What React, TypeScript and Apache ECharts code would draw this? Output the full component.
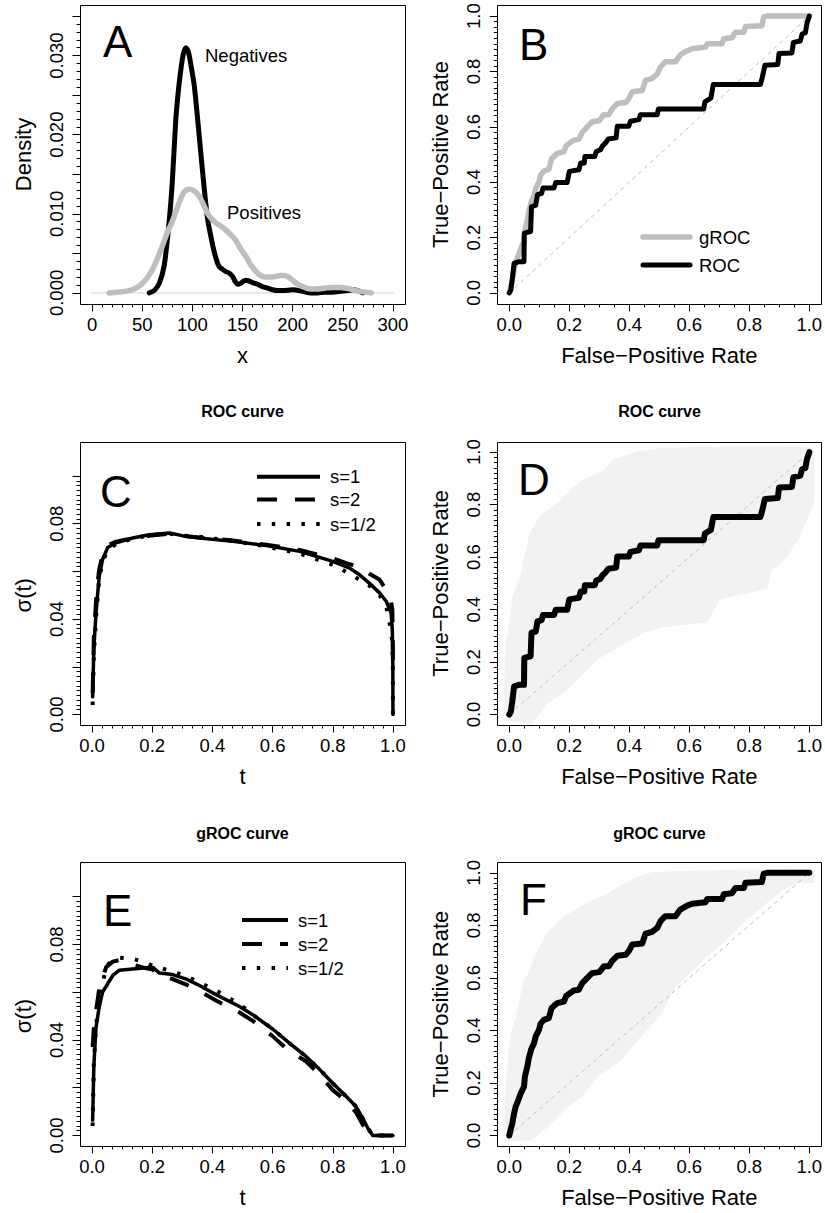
import React, { useEffect, useRef } from 'react';
import * as echarts from 'echarts';

// ---------------- DATA ----------------
// Panel A: kernel densities
const negX = [57, 62, 67, 72, 77, 80, 83.5, 86, 88.5, 91, 93.6, 96, 99, 102, 106, 110, 113, 115.4, 119, 122, 125, 127, 130, 133.5, 137, 140, 143, 145, 148, 150, 153, 157, 160, 165, 170, 175, 180, 185, 190, 200, 210, 218, 225, 232, 240, 248, 255, 260, 265, 270];
const negY = [0, 0.0003, 0.0012, 0.0035, 0.0092, 0.014, 0.0219, 0.0255, 0.0282, 0.0302, 0.031, 0.0305, 0.0285, 0.0261, 0.021, 0.0156, 0.0118, 0.0092, 0.0068, 0.0051, 0.0038, 0.0033, 0.003, 0.0027, 0.0025, 0.0021, 0.0014, 0.0011, 0.0012, 0.0014, 0.0016, 0.0015, 0.0013, 0.0011, 0.0008, 0.0006, 0.0004, 0.0003, 0.0003, 0.0004, 0.0002, 0, 0, 0.0001, 0.0001, 0.0002, 0.0003, 0.0004, 0.0003, 0];
const posX = [17, 25, 33, 40, 45, 50, 55, 60, 65, 70, 75, 80.5, 85, 88.7, 92, 97, 102, 107, 111, 115, 119, 124, 128, 133, 138, 143, 148, 153.5, 158, 163.6, 168, 173.5, 178, 183.5, 188, 192, 196, 200, 205, 210, 217, 224, 232, 240, 247, 253.7, 260, 266.8, 272, 278.5];
const posY = [0, 0.0001, 0.0002, 0.0004, 0.0007, 0.0012, 0.0019, 0.0029, 0.0043, 0.0059, 0.0076, 0.0092, 0.0108, 0.012, 0.0128, 0.0131, 0.0129, 0.0122, 0.0112, 0.0101, 0.0094, 0.0088, 0.0085, 0.008, 0.0074, 0.0067, 0.0056, 0.0046, 0.0036, 0.0027, 0.0022, 0.002, 0.002, 0.0021, 0.0022, 0.0022, 0.002, 0.0016, 0.0011, 0.0008, 0.0005, 0.0005, 0.0006, 0.0007, 0.0007, 0.0006, 0.0004, 0.0002, 0.0001, 0];

// ROC curve (False-positive rate, True-positive rate)
const rocFpr = [0, 0.005, 0.01, 0.016, 0.032, 0.049, 0.05, 0.071, 0.074, 0.088, 0.094, 0.108, 0.112, 0.149, 0.155, 0.193, 0.2, 0.232, 0.238, 0.25, 0.252, 0.285, 0.29, 0.304, 0.31, 0.321, 0.33, 0.356, 0.36, 0.398, 0.404, 0.432, 0.437, 0.493, 0.497, 0.648, 0.652, 0.672, 0.68, 0.837, 0.843, 0.852, 0.895, 0.899, 0.942, 0.947, 0.97, 0.976, 0.987, 0.992, 1];
const rocTpr = [0, 0.01, 0.05, 0.107, 0.113, 0.113, 0.216, 0.222, 0.312, 0.316, 0.355, 0.36, 0.379, 0.379, 0.399, 0.399, 0.439, 0.445, 0.469, 0.469, 0.493, 0.493, 0.511, 0.517, 0.53, 0.542, 0.556, 0.56, 0.602, 0.602, 0.62, 0.626, 0.644, 0.644, 0.664, 0.664, 0.69, 0.704, 0.753, 0.753, 0.777, 0.822, 0.825, 0.865, 0.867, 0.905, 0.91, 0.935, 0.94, 0.973, 1];

// gROC curve
const grocFpr = [0, 0.004, 0.01, 0.016, 0.021, 0.03, 0.038, 0.049, 0.052, 0.06, 0.065, 0.074, 0.082, 0.088, 0.099, 0.104, 0.115, 0.132, 0.141, 0.16, 0.182, 0.19, 0.215, 0.232, 0.243, 0.26, 0.276, 0.3, 0.315, 0.332, 0.343, 0.36, 0.388, 0.398, 0.41, 0.443, 0.454, 0.476, 0.493, 0.504, 0.52, 0.554, 0.57, 0.593, 0.609, 0.654, 0.66, 0.709, 0.715, 0.742, 0.754, 0.782, 0.787, 0.842, 0.848, 0.86, 1];
const grocTpr = [0, 0.02, 0.046, 0.084, 0.109, 0.135, 0.16, 0.186, 0.224, 0.262, 0.294, 0.332, 0.35, 0.377, 0.402, 0.425, 0.44, 0.447, 0.485, 0.504, 0.51, 0.532, 0.552, 0.555, 0.58, 0.6, 0.618, 0.622, 0.644, 0.644, 0.665, 0.684, 0.688, 0.701, 0.727, 0.731, 0.768, 0.775, 0.79, 0.816, 0.835, 0.835, 0.86, 0.875, 0.882, 0.888, 0.9, 0.9, 0.918, 0.922, 0.942, 0.942, 0.962, 0.965, 0.997, 1, 1];

// Confidence bands (panel D: ROC, panel F: gROC)
const bandRocUpX = [-0.012, -0.012, -0.007, 0, 0.016, 0.043, 0.071, 0.104, 0.165, 0.21, 0.249, 0.32, 0.349, 0.426, 0.51, 0.7, 0.9, 1.012];
const bandRocUpY = [0, 0.13, 0.28, 0.31, 0.45, 0.534, 0.687, 0.75, 0.805, 0.856, 0.89, 0.93, 0.967, 0.998, 1.011, 1.015, 1.015, 1.012];
const bandRocLoX = [-0.012, 0, 0.071, 0.127, 0.182, 0.238, 0.293, 0.371, 0.449, 0.509, 0.656, 0.7, 0.856, 0.867, 0.917, 0.962, 0.99, 1.012, 1.012];
const bandRocLoY = [0, -0.02, -0.03, 0.05, 0.089, 0.153, 0.216, 0.267, 0.318, 0.337, 0.356, 0.445, 0.483, 0.547, 0.598, 0.674, 0.75, 0.814, 1.012];
const bandGrocUpX = [-0.012, -0.01, 0, 0.01, 0.027, 0.054, 0.071, 0.088, 0.127, 0.182, 0.265, 0.32, 0.376, 0.43, 0.476, 0.7, 1.012];
const bandGrocUpY = [0, 0.15, 0.29, 0.39, 0.45, 0.59, 0.623, 0.68, 0.763, 0.827, 0.885, 0.91, 0.95, 0.98, 0.997, 1.005, 1.01];
const bandGrocLoX = [-0.012, 0, 0.071, 0.127, 0.182, 0.238, 0.293, 0.371, 0.426, 0.5, 0.545, 0.6, 0.656, 0.711, 0.778, 0.856, 0.911, 0.956, 1.012, 1.012];
const bandGrocLoY = [0, -0.015, -0.013, 0.038, 0.102, 0.153, 0.229, 0.292, 0.369, 0.46, 0.56, 0.623, 0.687, 0.738, 0.814, 0.89, 0.941, 0.967, 0.967, 1.01];

// Panel C: sigma(t) for ROC curve
const tC = [0.002, 0.006, 0.013, 0.019, 0.024, 0.035, 0.052, 0.08, 0.135, 0.19, 0.257, 0.3, 0.357, 0.468, 0.579, 0.69, 0.8, 0.856, 0.889, 0.922, 0.956, 0.978, 0.994, 0.998, 0.9995, 1.0];
const sC1 = [0.0074, 0.028, 0.042, 0.051, 0.058, 0.065, 0.07, 0.072, 0.074, 0.0754, 0.0761, 0.075, 0.074, 0.0726, 0.0709, 0.0684, 0.0642, 0.0614, 0.0586, 0.055, 0.0509, 0.0474, 0.0425, 0.035, 0.021, 0];
const sC2 = [0.009, 0.032, 0.047, 0.056, 0.061, 0.067, 0.071, 0.0725, 0.074, 0.075, 0.0758, 0.075, 0.0742, 0.073, 0.0712, 0.069, 0.0655, 0.063, 0.062, 0.059, 0.0565, 0.052, 0.047, 0.044, 0.03, 0.02];
const sC05 = [0.004, 0.025, 0.04, 0.05, 0.057, 0.064, 0.069, 0.0715, 0.0738, 0.0752, 0.0758, 0.075, 0.0745, 0.0728, 0.0705, 0.0675, 0.0628, 0.059, 0.0565, 0.054, 0.05, 0.045, 0.035, 0.03, 0.02, 0];

// Panel E: sigma(t) for gROC curve
const tE = [0.002, 0.006, 0.013, 0.024, 0.035, 0.047, 0.069, 0.091, 0.135, 0.18, 0.202, 0.224, 0.268, 0.313, 0.357, 0.412, 0.49, 0.534, 0.601, 0.656, 0.712, 0.756, 0.8, 0.845, 0.878, 0.9, 0.917, 0.933, 0.96, 1.0];
const sE1 = [0.0064, 0.029, 0.045, 0.054, 0.06, 0.0625, 0.067, 0.0692, 0.0697, 0.0702, 0.0704, 0.068, 0.0674, 0.0655, 0.0628, 0.059, 0.054, 0.0506, 0.0445, 0.0387, 0.033, 0.0277, 0.0219, 0.0163, 0.012, 0.0071, 0.0029, 0, 0, 0];
const sE2 = [0.037, 0.045, 0.052, 0.0615, 0.066, 0.0705, 0.0728, 0.0735, 0.0715, 0.07, 0.0695, 0.0667, 0.0655, 0.0632, 0.0605, 0.0565, 0.0515, 0.048, 0.0415, 0.0352, 0.031, 0.0255, 0.019, 0.0145, 0.0095, 0.0045, 0.0008, 0, 0, 0];
const sE05 = [0.004, 0.03, 0.046, 0.056, 0.063, 0.0709, 0.0735, 0.0745, 0.074, 0.0723, 0.071, 0.0703, 0.0686, 0.0668, 0.064, 0.0608, 0.055, 0.0506, 0.0445, 0.0387, 0.033, 0.0277, 0.0219, 0.0163, 0.012, 0.0071, 0.003, 0, 0, 0];

const diagX = [-0.04, 1.04];
const zeroLineX = [-12, 312];

// ---------------- LAYOUT ----------------
const FONT = "'Liberation Sans', Arial, Helvetica, sans-serif";
type Panel = { box: number[]; xlim: number[]; ylim: number[]; xr: number[]; yr: number[]; xi: number; yi: number; xs: number; ys: number };
const P: Record<string, Panel> = {
  A: { box: [80, 5, 325, 299], xlim: [0, 300], ylim: [0, 0.035], xr: [0, 300], yr: [0, 0.035], xi: 50, yi: 0.005, xs: 5, ys: 5 },
  B: { box: [497.3, 5, 324, 299], xlim: [0, 1], ylim: [0, 1], xr: [0, 1], yr: [0, 1], xi: 0.2, yi: 0.2, xs: 4, ys: 10 },
  C: { box: [80, 441.7, 325, 283.3], xlim: [0, 1], ylim: [0, 0.11], xr: [0, 1], yr: [0, 0.1], xi: 0.2, yi: 0.02, xs: 6, ys: 10 },
  D: { box: [497.3, 441.7, 324, 283.3], xlim: [0, 1], ylim: [0, 1], xr: [0, 1], yr: [0, 1], xi: 0.2, yi: 0.2, xs: 4, ys: 10 },
  E: { box: [80, 862.3, 325, 283.7], xlim: [0, 1], ylim: [0, 0.11], xr: [0, 1], yr: [0, 0.1], xi: 0.2, yi: 0.02, xs: 6, ys: 10 },
  F: { box: [497.3, 862.3, 324, 283.7], xlim: [0, 1], ylim: [0, 1], xr: [0, 1], yr: [0, 1], xi: 0.2, yi: 0.2, xs: 4, ys: 10 },
};
const ORDER = ['A', 'B', 'C', 'D', 'E', 'F'];

function layout(p: Panel) {
  const [bx, by, bw, bh] = p.box;
  const iL = bx + (bw * 0.04) / 1.08, iW = bw / 1.08, iT = by + (bh * 0.04) / 1.08, iH = bh / 1.08;
  const fx = (v: number) => iL + ((v - p.xlim[0]) / (p.xlim[1] - p.xlim[0])) * iW;
  const fy = (v: number) => iT + iH - ((v - p.ylim[0]) / (p.ylim[1] - p.ylim[0])) * iH;
  const left = fx(p.xr[0]), right = fx(p.xr[1]), top = fy(p.yr[1]), bottom = fy(p.yr[0]);
  return { left, top, width: right - left, height: bottom - top, xOff: by + bh - bottom, yOff: left - bx };
}

const pairs = (xs: number[], ys: number[]) => xs.map((x, i) => [x, ys[i]]);

function lineS(idx: number, data: number[][], color: string, width: number, type: any, z: number, extra: any = {}) {
  return {
    type: 'line', xAxisIndex: idx, yAxisIndex: idx, data, showSymbol: false, symbol: 'none', clip: false, silent: true,
    lineStyle: { color, width, type, cap: extra.cap || 'round', join: 'round' }, z, emphasis: { disabled: true },
    smooth: extra.smooth || false,
  };
}

function bandS(idx: number, upX: number[], upY: number[], loX: number[], loY: number[]) {
  return {
    type: 'custom', xAxisIndex: idx, yAxisIndex: idx, coordinateSystem: 'cartesian2d', clip: false, silent: true, z: 1,
    data: [[0, 0]],
    renderItem: (_params: any, api: any) => {
      const pts: number[][] = [];
      for (let i = 0; i < upX.length; i++) pts.push(api.coord([upX[i], upY[i]]));
      for (let i = loX.length - 1; i >= 0; i--) pts.push(api.coord([loX[i], loY[i]]));
      return { type: 'polygon', shape: { points: pts }, style: { fill: '#f2f2f2', stroke: '#f2f2f2', lineWidth: 3, lineJoin: 'round' } };
    },
  };
}

const fmt: Record<string, (v: number) => string> = {
  int: (v) => String(Math.round(v)),
  one: (v) => v.toFixed(1),
  dens: (v) => (Math.round(v * 1000) % 10 === 0 ? v.toFixed(3) : ''),
  sig: (v) => (Math.round(v * 100) % 4 === 0 ? v.toFixed(2) : ''),
};

const AX_NAMES: Record<string, string[]> = {
  A: ['x', 'Density'],
  B: ['False\u2212Positive Rate', 'True\u2212Positive Rate'],
  C: ['t', '\u03c3(t)'],
  D: ['False\u2212Positive Rate', 'True\u2212Positive Rate'],
  E: ['t', '\u03c3(t)'],
  F: ['False\u2212Positive Rate', 'True\u2212Positive Rate'],
};
const AX_FMT: Record<string, string[]> = { A: ['int', 'dens'], B: ['one', 'one'], C: ['one', 'sig'], D: ['one', 'one'], E: ['one', 'sig'], F: ['one', 'one'] };

function buildOption() {
  const grids: any[] = [], xAxes: any[] = [], yAxes: any[] = [];
  ORDER.forEach((k, i) => {
    const p = P[k];
    const L = layout(p);
    grids.push({ left: L.left, top: L.top, width: L.width, height: L.height, containLabel: false, outerBoundsMode: 'none', show: false });
    const tick = { show: true, inside: false, length: 7.5, lineStyle: { color: '#000', width: 1 } };
    const minor = (n: number) => ({ show: true, splitNumber: n, length: 3.5, lineStyle: { color: '#000', width: 1 } });
    xAxes.push({
      type: 'value', gridIndex: i, min: p.xr[0], max: p.xr[1], interval: p.xi, position: 'bottom', offset: L.xOff,
      axisLine: { show: true, onZero: false, lineStyle: { color: '#000', width: 1 } },
      axisTick: tick, minorTick: minor(p.xs), splitLine: { show: false }, minorSplitLine: { show: false },
      axisLabel: { show: true, color: '#000', fontSize: 18.5, fontFamily: FONT, margin: 11, formatter: fmt[AX_FMT[k][0]] },
      name: AX_NAMES[k][0], nameLocation: 'middle', nameGap: 40,
      nameTextStyle: { fontSize: 22, color: '#000', fontFamily: FONT },
    });
    yAxes.push({
      type: 'value', gridIndex: i, min: p.yr[0], max: p.yr[1], interval: p.yi, position: 'left', offset: L.yOff,
      axisLine: { show: true, onZero: false, lineStyle: { color: '#000', width: 1 } },
      axisTick: tick, minorTick: minor(p.ys), splitLine: { show: false }, minorSplitLine: { show: false },
      axisLabel: { show: true, color: '#000', fontSize: 18.5, fontFamily: FONT, margin: 14.5, rotate: 90, formatter: fmt[AX_FMT[k][1]] },
      name: AX_NAMES[k][1], nameLocation: 'middle', nameGap: 46, nameRotate: 90,
      nameTextStyle: { fontSize: 22, color: '#000', fontFamily: FONT },
    });
  });

  const dashed = [20, 18];
  const dotted = [3.5, 11.3];
  const series: any[] = [
    // A
    lineS(0, pairs(zeroLineX, [0, 0]), '#d3d3d3', 1, 'solid', 2, { cap: 'butt' }),
    lineS(0, pairs(negX, negY), '#000', 5, 'solid', 3, { smooth: 0.3 }),
    lineS(0, pairs(posX, posY), '#bebebe', 5.5, 'solid', 4, { smooth: 0.3 }),
    // B
    lineS(1, pairs(diagX, diagX), '#bebebe', 1, [4, 4], 2, { cap: 'butt' }),
    lineS(1, pairs(grocFpr, grocTpr), '#bebebe', 5.5, 'solid', 3),
    lineS(1, pairs(rocFpr, rocTpr), '#000', 5, 'solid', 4),
    // C
    lineS(2, pairs(tC, sC2), '#000', 4, dashed, 3, { cap: 'butt' }),
    lineS(2, pairs(tC, sC05), '#000', 4, dotted, 3, { cap: 'butt' }),
    lineS(2, pairs(tC, sC1), '#000', 3.5, 'solid', 4),
    // D
    bandS(3, bandRocUpX, bandRocUpY, bandRocLoX, bandRocLoY),
    lineS(3, pairs(diagX, diagX), '#bebebe', 1, [4, 4], 2, { cap: 'butt' }),
    lineS(3, pairs(rocFpr, rocTpr), '#000', 6, 'solid', 4),
    // E
    lineS(4, pairs(tE, sE2), '#000', 4, dashed, 3, { cap: 'butt' }),
    lineS(4, pairs(tE, sE05), '#000', 4, dotted, 3, { cap: 'butt' }),
    lineS(4, pairs(tE, sE1), '#000', 3.5, 'solid', 4),
    // F
    bandS(5, bandGrocUpX, bandGrocUpY, bandGrocLoX, bandGrocLoY),
    lineS(5, pairs(diagX, diagX), '#bebebe', 1, [4, 4], 2, { cap: 'butt' }),
    lineS(5, pairs(grocFpr, grocTpr), '#000', 6, 'solid', 4),
  ];

  const txt = (text: string, x: number, y: number, size: number, align = 'left', weight = 'normal') => ({
    type: 'text', x, y, z: 20, silent: true,
    style: { text, fontSize: size, fontFamily: FONT, fontWeight: weight, fill: '#000', align, verticalAlign: 'middle' },
  });
  const seg = (x1: number, x2: number, y: number, color: string, w: number, dash: any, cap = 'butt') => ({
    type: 'line', z: 20, silent: true, shape: { x1, y1: y, x2, y2: y },
    style: { stroke: color, lineWidth: w, lineDash: dash, lineCap: cap },
  });

  const graphics: any[] = [];
  ORDER.forEach((k) => {
    const [bx, by, bw, bh] = P[k].box;
    const x = Math.round(bx) + 0.5, y = Math.round(by) + 0.5;
    graphics.push({ type: 'rect', z: 15, silent: true, shape: { x, y, width: Math.round(bx + bw) - Math.round(bx), height: Math.round(by + bh) - Math.round(by) }, style: { fill: 'none', stroke: '#000', lineWidth: 1 } });
  });
  graphics.push(
    txt('A', 103, 41, 44), txt('B', 519, 44, 44), txt('C', 100, 491, 44),
    txt('D', 518, 479, 44), txt('E', 103, 910.5, 44), txt('F', 520, 899, 44),
    txt('ROC curve', 242.5, 411.7, 16, 'center', 'bold'), txt('ROC curve', 659.5, 411.7, 16, 'center', 'bold'),
    txt('gROC curve', 242.5, 833.3, 16, 'center', 'bold'), txt('gROC curve', 659.5, 833.3, 16, 'center', 'bold'),
    txt('Negatives', 205, 55, 18.5), txt('Positives', 227, 212, 18.5),
    // legend B
    seg(643, 690, 237, '#bebebe', 5.5, null, 'round'), seg(643, 690, 265, '#000', 5, null, 'round'),
    txt('gROC', 699, 237, 18.5), txt('ROC', 699, 265, 18.5),
    // legend C
    seg(257, 320, 476.7, '#000', 4, null), seg(257, 320, 499.5, '#000', 4, dashed), seg(257, 320, 524, '#000', 4, dotted),
    txt('s=1', 330, 476.7, 18.5), txt('s=2', 330, 499.5, 18.5), txt('s=1/2', 330, 524, 18.5),
    // legend E
    seg(242, 288, 920, '#000', 4, null), seg(242, 288, 944, '#000', 4, dashed), seg(242, 288, 968, '#000', 4, dotted),
    txt('s=1', 298, 920, 18.5), txt('s=2', 298, 944, 18.5), txt('s=1/2', 298, 968, 18.5),
  );

  return {
    animation: false,
    backgroundColor: '#fff',
    textStyle: { fontFamily: FONT },
    grid: grids,
    xAxis: xAxes,
    yAxis: yAxes,
    series,
    graphic: { elements: graphics },
  };
}

export default function App() {
  const ref = useRef<HTMLDivElement>(null);
  useEffect(() => {
    const chart = echarts.init(ref.current as HTMLDivElement, null, { renderer: 'svg' });
    chart.setOption(buildOption() as any);
    return () => chart.dispose();
  }, []);
  return <div ref={ref} style={{ position: 'absolute', left: 0, top: 0, width: 825, height: 1213, background: '#fff' }} />;
}
